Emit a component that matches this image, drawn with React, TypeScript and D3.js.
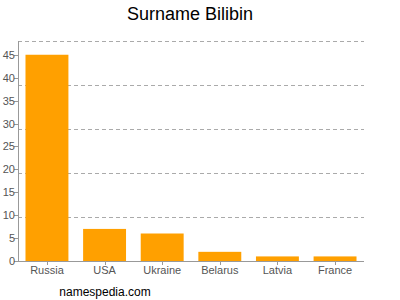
import React from "react";
import * as d3 from "d3";

const categories = ["Russia", "USA", "Ukraine", "Belarus", "Latvia", "France"];
const values = [45, 7, 6, 2, 1, 1];
const yTicks = [0, 5, 10, 15, 20, 25, 30, 35, 40, 45];
const title = "Surname Bilibin";
const credit = "namespedia.com";

export default function App() {
  const W = 400, H = 300;
  const left = 18, right = 364, top = 41, bottom = 261;
  const x = d3.scaleBand<string>().domain(categories).range([left, right]).paddingInner(0.255).paddingOuter(0.13);
  const y = d3.scaleLinear().domain([0, 48]).range([bottom, top]);
  const gridFracs = [0.2, 0.4, 0.6, 0.8, 1.0];
  const font = "Liberation Sans, Arial, sans-serif";
  return (
    <svg width={W} height={H} style={{ position: "absolute", left: 0, top: 0, background: "#fff" }}>
      <text x={190} y={20} textAnchor="middle" fontFamily={font} fontSize={18} fill="#000">{title}</text>
      {gridFracs.map((f, i) => {
        const gy = Math.round(bottom - f * (bottom - top)) + 0.5;
        return <line key={i} x1={left} x2={right} y1={gy} y2={gy} stroke="#aaa" strokeDasharray="4,3" strokeWidth={1} />;
      })}
      {categories.map((c, i) => (
        <rect key={c} x={x(c)} y={y(values[i])} width={x.bandwidth()} height={bottom - y(values[i])} fill="#ffa000" />
      ))}
      <line x1={left + 0.5} x2={left + 0.5} y1={top} y2={bottom} stroke="#999" />
      <line x1={left} x2={right} y1={bottom + 0.5} y2={bottom + 0.5} stroke="#999" />
      {yTicks.map((t) => (
        <g key={t}>
          <line x1={left - 4} x2={left} y1={Math.round(y(t)) + 0.5} y2={Math.round(y(t)) + 0.5} stroke="#999" />
          <text x={left - 3} y={y(t) + 4} textAnchor="end" fontFamily={font} fontSize={11} fill="#555">{t}</text>
        </g>
      ))}
      {categories.map((c) => {
        const cx = (x(c) as number) + x.bandwidth() / 2;
        return (
          <g key={c}>
            <line x1={Math.round(cx) + 0.5} x2={Math.round(cx) + 0.5} y1={bottom} y2={bottom + 4} stroke="#999" />
            <text x={cx} y={274} textAnchor="middle" fontFamily={font} fontSize={11} fill="#555">{c}</text>
          </g>
        );
      })}
      <text x={105} y={296} textAnchor="middle" fontFamily={font} fontSize={12} fill="#000">{credit}</text>
    </svg>
  );
}
